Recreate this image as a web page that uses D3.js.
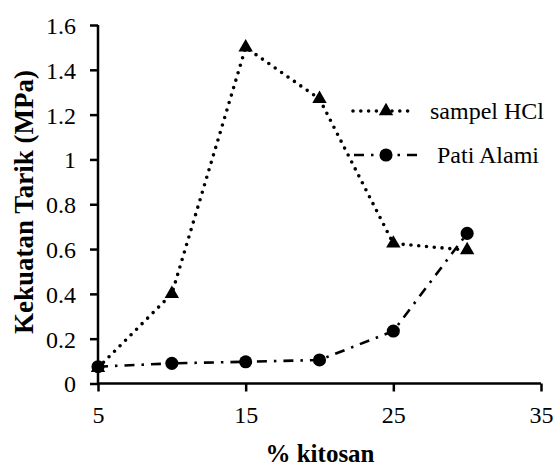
<!DOCTYPE html>
<html><head><meta charset="utf-8">
<script src="https://cdn.jsdelivr.net/npm/d3@7"></script>
<style>body{margin:0;background:#fff}svg{display:block}</style>
</head><body>
<script>
const kitosan = [5, 10, 15, 20, 25, 30];
const sampelHCl = [0.07, 0.40, 1.50, 1.27, 0.625, 0.595];
const patiAlami = [0.075, 0.09, 0.097, 0.105, 0.234, 0.67];
const xTicks = [5, 15, 25, 35];
const yTicks = [0, 0.2, 0.4, 0.6, 0.8, 1, 1.2, 1.4, 1.6];
const seriesNames = ["sampel HCl", "Pati Alami"];

const W = 557, H = 468;
const svg = d3.select("body").append("svg").attr("width", W).attr("height", H);
const font = "'Liberation Serif', Tinos, 'Times New Roman', 'DejaVu Serif', serif";

const x = d3.scaleLinear().domain([5, 35]).range([98, 541]);
const y = d3.scaleLinear().domain([0, 1.6]).range([383.5, 25]);

// axes
const xAxis = svg.append("g").attr("transform", `translate(0,${y(0)})`)
  .call(d3.axisBottom(x).tickValues(xTicks).tickSize(8).tickPadding(14).tickFormat(d3.format("d")));
const yAxis = svg.append("g").attr("transform", `translate(${x(5)},0)`)
  .call(d3.axisLeft(y).tickValues(yTicks).tickSize(8).tickPadding(14).tickFormat(d => String(d)));
[xAxis, yAxis].forEach(g => {
  g.attr("font-family", font).attr("font-size", 24);
  g.select(".domain").attr("stroke", "#000").attr("stroke-width", 2.5)
    .attr("d", g === xAxis ? `M${x(5)},0H${x(35)}` : `M0,${y(0)}V${y(1.6)}`);
  g.selectAll(".tick line").attr("stroke", "#000").attr("stroke-width", 2.5);
  g.selectAll(".tick text").attr("fill", "#000");
});
yAxis.selectAll(".tick text").attr("dy", "0.35em");

// lines
const pts = arr => arr.map((v, i) => [x(kitosan[i]), y(v)]);
const line = d3.line();
svg.append("path").attr("d", line(pts(sampelHCl))).attr("fill", "none")
  .attr("stroke", "#000").attr("stroke-width", 3.6).attr("stroke-linecap", "round")
  .attr("stroke-dasharray", "0 7.8");
svg.append("path").attr("d", line(pts(patiAlami))).attr("fill", "none")
  .attr("stroke", "#000").attr("stroke-width", 2.6).attr("stroke-linecap", "butt")
  .attr("stroke-dasharray", "10 7 2.5 7");

const tri = d3.symbol().type(d3.symbolTriangle).size(90);
const circ = d3.symbol().type(d3.symbolCircle).size(135);
svg.append("g").selectAll("path").data(pts(sampelHCl)).join("path")
  .attr("d", tri).attr("transform", d => `translate(${d[0]},${d[1]})`).attr("fill", "#000");
svg.append("g").selectAll("path").data(pts(patiAlami)).join("path")
  .attr("d", circ).attr("transform", d => `translate(${d[0]},${d[1]})`).attr("fill", "#000");

// legend
const lg = svg.append("g").attr("font-family", font).attr("font-size", 24);
lg.append("line").attr("x1", 353).attr("x2", 414).attr("y1", 111).attr("y2", 111)
  .attr("stroke", "#000").attr("stroke-width", 3.6).attr("stroke-linecap", "round").attr("stroke-dasharray", "0 7.8");
lg.append("path").attr("d", tri).attr("transform", "translate(386,111)");
lg.append("text").attr("x", 430).attr("y", 119).text(seriesNames[0]);
lg.append("line").attr("x1", 354).attr("x2", 422).attr("y1", 155).attr("y2", 155)
  .attr("stroke", "#000").attr("stroke-width", 2.6).attr("stroke-dasharray", "10 7 2.5 7");
lg.append("path").attr("d", circ).attr("transform", "translate(386,155)");
lg.append("text").attr("x", 437).attr("y", 163).text(seriesNames[1]);

// axis titles
svg.append("text").attr("x", 320).attr("y", 462).attr("text-anchor", "middle")
  .attr("font-family", font).attr("font-size", 25).attr("font-weight", "bold").text("% kitosan");
svg.append("text").attr("transform", `translate(33,202) rotate(-90)`)
  .attr("text-anchor", "middle")
  .attr("font-family", font).attr("font-size", 27).attr("font-weight", "bold").text("Kekuatan Tarik (MPa)");
</script>
</body></html>
